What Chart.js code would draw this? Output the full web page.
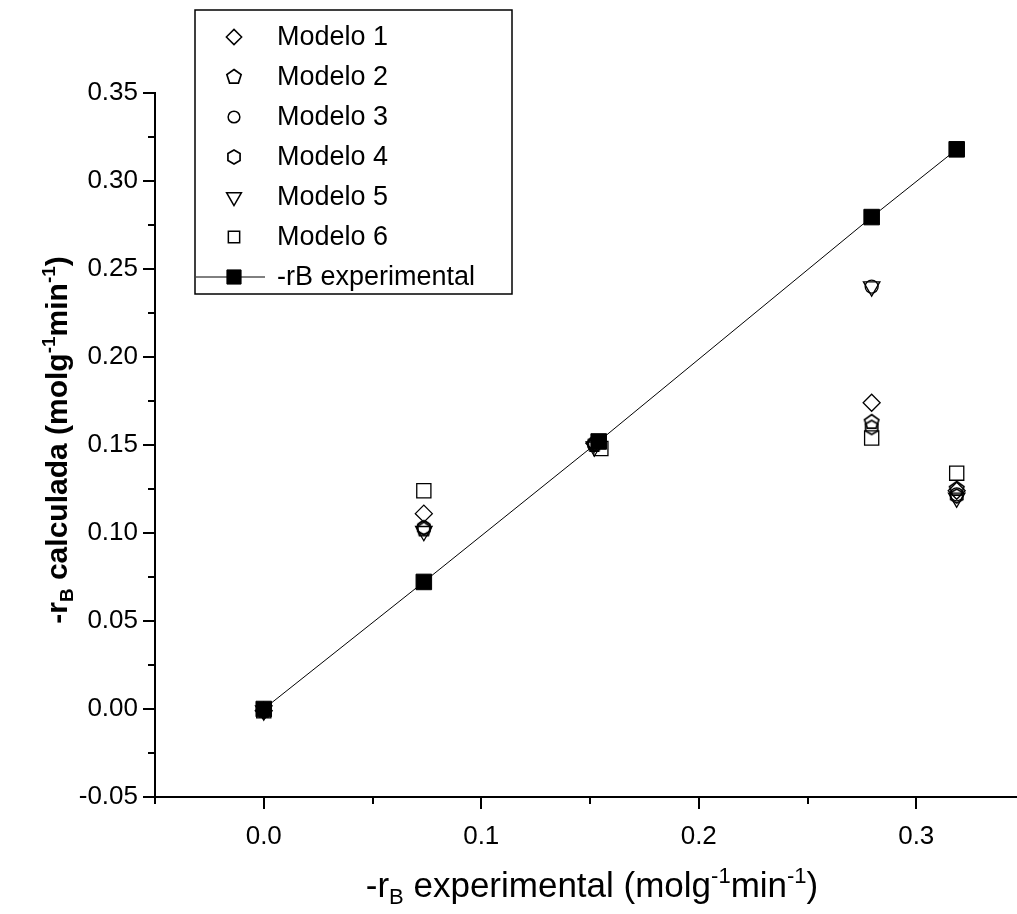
<!DOCTYPE html>
<html>
<head>
<meta charset="utf-8">
<script src="https://cdn.jsdelivr.net/npm/chart.js@4/dist/chart.umd.min.js"></script>
<style>
    html, body { margin: 0; padding: 0; overflow: hidden; background: #fff; }
</style>
</head>
<body>
<canvas id="chart" width="1049" height="914"></canvas>
<script>
// x positions of the experimental points and the matching values
const xExp = [0.000, 0.0736, 0.154, 0.2795, 0.3186];
const yExp = [0.000, 0.0722, 0.152, 0.2795, 0.318];

// model x positions (a bit scattered round the experimental x)
const xModel = [0.000, 0.0736, 0.152, 0.2795, 0.3186];
const xModel6 = [0.000, 0.0736, 0.155, 0.2795, 0.3186];

const modelo1 = [-0.001, 0.111, 0.151, 0.174, 0.124];
const modelo2 = [-0.001, 0.102, 0.150, 0.163, 0.125];
const modelo3 = [-0.001, 0.103, 0.150, 0.240, 0.122];
const modelo4 = [-0.001, 0.103, 0.151, 0.160, 0.121];
const modelo5 = [-0.001, 0.101, 0.149, 0.240, 0.120];
const modelo6 = [-0.001, 0.124, 0.148, 0.154, 0.134];

const modelNames = ['Modelo 1', 'Modelo 2', 'Modelo 3', 'Modelo 4', 'Modelo 5', 'Modelo 6'];
const expName = '-rB experimental';

const xMajor = [0.0, 0.1, 0.2, 0.3];

function polygon(sides, r, startAngle) {
    const size = 2 * Math.ceil(r + 2);
    const c = document.createElement('canvas');
    c.width = size;
    c.height = size;
    const g = c.getContext('2d');
    g.strokeStyle = '#000';
    g.lineWidth = 1.7;
    g.lineJoin = 'miter';
    g.beginPath();
    for (let i = 0; i < sides; i++) {
        const a = startAngle + i * 2 * Math.PI / sides;
        const px = size / 2 + r * Math.cos(a);
        const py = size / 2 + r * Math.sin(a);
        if (i === 0) g.moveTo(px, py); else g.lineTo(px, py);
    }
    g.closePath();
    g.stroke();
    return c;
}

const pentagon = polygon(5, 7.5, -Math.PI / 2);
const hexagon = polygon(6, 7, -Math.PI / 2);

const toPts = (xs, ys) => xs.map((x, i) => ({ x: x, y: ys[i] }));

const markers = [
    { pointStyle: 'rectRot', radius: 8.5, rotation: 0 },
    { pointStyle: pentagon, radius: 8, rotation: 0 },
    { pointStyle: 'circle', radius: 6.5, rotation: 0 },
    { pointStyle: hexagon, radius: 8, rotation: 0 },
    { pointStyle: 'triangle', radius: 9.5, rotation: 180 },
    { pointStyle: 'rect', radius: 10, rotation: 0 }
];

const modelData = [modelo1, modelo2, modelo3, modelo4, modelo5, modelo6];

const datasets = modelData.map((ys, i) => ({
    label: modelNames[i],
    data: toPts(i === 5 ? xModel6 : xModel, ys),
    showLine: false,
    pointStyle: markers[i].pointStyle,
    pointRadius: markers[i].radius,
    pointRotation: markers[i].rotation,
    pointBorderColor: '#000',
    pointBackgroundColor: 'rgba(0,0,0,0)',
    pointBorderWidth: 1.3,
    order: i
}));

datasets.push({
    label: expName,
    data: toPts(xExp, yExp),
    showLine: true,
    borderColor: '#000',
    borderWidth: 1,
    pointStyle: 'rect',
    pointRadius: 11,
    pointBackgroundColor: '#000',
    pointBorderColor: '#000',
    pointBorderWidth: 1,
    order: 20
});

const FONT = '"Liberation Sans", Arial, sans-serif';

// rich text with sub / superscripts
function drawRich(ctx, runs, size, weight, cx, cy, rotate) {
    ctx.save();
    ctx.translate(cx, cy);
    if (rotate) ctx.rotate(-Math.PI / 2);
    const fontFor = (r) => `${weight} ${r.sub || r.sup ? Math.round(size * 0.62) : size}px ${FONT}`;
    let total = 0;
    runs.forEach(r => { ctx.font = fontFor(r); total += ctx.measureText(r.t).width; });
    let x = -total / 2;
    ctx.fillStyle = '#000';
    ctx.textBaseline = 'alphabetic';
    runs.forEach(r => {
        ctx.font = fontFor(r);
        let dy = size * 0.36;
        if (r.sub) dy += size * 0.22;
        if (r.sup) dy -= size * 0.38;
        ctx.fillText(r.t, x, dy);
        x += ctx.measureText(r.t).width;
    });
    ctx.restore();
}

const fmt = (v, d) => (Math.abs(v) < 1e-9 ? 0 : v).toFixed(d);

const decorPlugin = {
    id: 'decor',
    afterDraw(chart) {
        const ctx = chart.ctx;
        const xs = chart.scales.x;
        const ys = chart.scales.y;
        const area = chart.chartArea;

        // ticks, outside
        ctx.save();
        ctx.strokeStyle = '#000';
        ctx.lineWidth = 2;
        for (let k = -1; k <= 7; k++) {
            const v = k * 0.05;
            const major = Math.abs(v * 10 - Math.round(v * 10)) < 1e-6;
            const px = Math.round(xs.getPixelForValue(v));
            const len = major ? 12 : 7;
            ctx.beginPath();
            ctx.moveTo(px, area.bottom);
            ctx.lineTo(px, area.bottom + len);
            ctx.stroke();
        }
        for (let k = -2; k <= 14; k++) {
            const v = k * 0.025;
            const major = k % 2 === 0;
            const py = Math.round(ys.getPixelForValue(v));
            const len = major ? 12 : 7;
            ctx.beginPath();
            ctx.moveTo(area.left, py);
            ctx.lineTo(area.left - len, py);
            ctx.stroke();
        }
        ctx.restore();

        // axis titles
        drawRich(ctx, [
            { t: '-r' }, { t: 'B', sub: true }, { t: ' experimental (molg' },
            { t: '-1', sup: true }, { t: 'min' }, { t: '-1', sup: true }, { t: ')' }
        ], 35, 'normal', 592, 884, false);
        drawRich(ctx, [
            { t: '-r' }, { t: 'B', sub: true }, { t: ' calculada (molg' },
            { t: '-1', sup: true }, { t: 'min' }, { t: '-1', sup: true }, { t: ')' }
        ], 30, 'bold', 56, 440, true);

        // legend box
        const lx = 195, ly = 10, lw = 317, lh = 284;
        ctx.save();
        ctx.fillStyle = '#fff';
        ctx.fillRect(lx, ly, lw, lh);
        ctx.strokeStyle = '#000';
        ctx.lineWidth = 1.5;
        ctx.strokeRect(lx, ly, lw, lh);
        ctx.font = `27px ${FONT}`;
        ctx.textBaseline = 'middle';
        ctx.fillStyle = '#000';
        const names = chart.data.datasets.map(d => d.label);
        names.forEach((name, i) => {
            const y = 37 + i * 40;
            const ds = chart.data.datasets[i];
            if (ds.showLine) {
                ctx.lineWidth = 1;
                ctx.beginPath();
                ctx.moveTo(lx + 1, y);
                ctx.lineTo(lx + 70, y);
                ctx.stroke();
            }
            ctx.fillStyle = ds.pointBackgroundColor;
            ctx.strokeStyle = '#000';
            Chart.helpers.drawPoint(ctx, {
                pointStyle: ds.pointStyle,
                radius: ds.pointStyle === 'rect' && !ds.showLine ? 8 : (ds.showLine ? 10 : ds.pointRadius * 0.9),
                rotation: ds.pointRotation || 0,
                borderWidth: ds.pointBorderWidth
            }, 234, y);
            ctx.fillStyle = '#000';
            ctx.fillText(name, 277, y + 1);
        });
        ctx.restore();
    }
};

new Chart(document.getElementById('chart'), {
    type: 'scatter',
    data: { datasets: datasets },
    options: {
        responsive: false,
        animation: false,
        events: [],
        layout: { padding: { top: 93, right: 0, left: 0, bottom: 0 } },
        plugins: {
            legend: { display: false },
            tooltip: { enabled: false }
        },
        scales: {
            x: {
                type: 'linear',
                min: -0.05,
                max: 0.35,
                afterFit: (s) => { s.height = 117; },
                grid: { display: false, drawTicks: false },
                border: { display: true, color: '#000', width: 2 },
                ticks: {
                    stepSize: 0.05,
                    padding: 24,
                    color: '#000',
                    font: { family: FONT, size: 26 },
                    maxRotation: 0,
                    autoSkip: false,
                    callback: (v) => xMajor.some(m => Math.abs(m - v) < 1e-6) ? fmt(v, 1) : ''
                }
            },
            y: {
                type: 'linear',
                min: -0.05,
                max: 0.35,
                afterFit: (s) => { s.width = 155; },
                grid: { display: false, drawTicks: false },
                border: { display: true, color: '#000', width: 2 },
                ticks: {
                    stepSize: 0.05,
                    padding: 17,
                    color: '#000',
                    font: { family: FONT, size: 26 },
                    autoSkip: false,
                    callback: (v) => fmt(v, 2)
                }
            }
        }
    },
    plugins: [decorPlugin]
});
</script>
</body>
</html>
